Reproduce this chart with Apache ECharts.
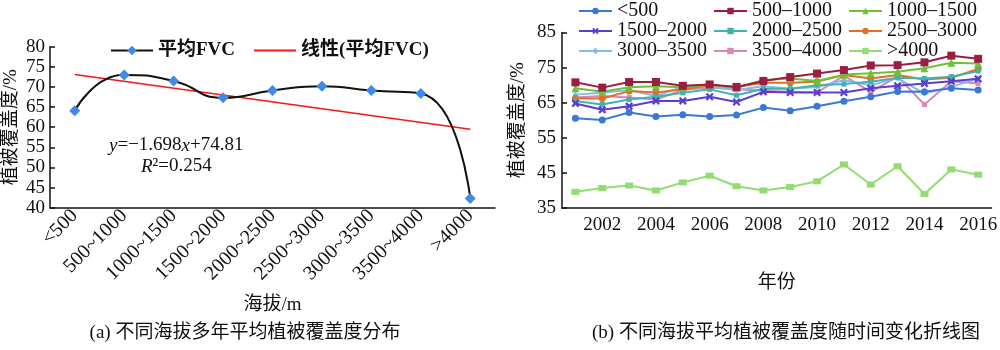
<!DOCTYPE html>
<html>
<head>
<meta charset="utf-8">
<script src="https://cdn.jsdelivr.net/npm/echarts@6/dist/echarts.min.js"></script>
<style>
html,body{margin:0;padding:0;background:#fff;}
#chart{width:1000px;height:350px;}
</style>
</head>
<body>
<div id="chart"></div>
<script>
// ---- Data (left panel) ----
const altCats = ['<500','500~1000','1000~1500','1500~2000','2000~2500','2500~3000','3000~3500','3500~4000','>4000'];
const meanFVC = [64.1, 73.0, 71.5, 67.3, 69.1, 70.2, 69.1, 68.4, 42.3];
const trendFVC = [73.1, null, null, null, null, null, null, null, 59.5];
const leftYTicks = [40, 45, 50, 55, 60, 65, 70, 75, 80];

// ---- Data (right panel) ----
const years = ['2001','2002','2003','2004','2005','2006','2007','2008','2009','2010','2011','2012','2013','2014','2015','2016'];
const s_lt500     = [60.6,60.1,62.2,61.1,61.6,61.1,61.5,63.6,62.7,64.0,65.4,66.7,68.2,68.1,69.1,68.6];
const s_500_1000  = [70.8,69.3,70.9,70.9,69.8,70.2,69.5,71.2,72.3,73.3,74.3,75.6,75.7,76.5,78.4,77.5];
const s_1000_1500 = [69.1,68.1,69.4,69.7,69.4,70.2,69.2,71.5,71.9,71.2,73.0,73.4,73.8,74.8,76.4,76.2];
const s_1500_2000 = [64.8,63.0,64.0,65.5,65.5,66.7,65.2,68.1,67.9,67.9,67.9,69.1,69.8,70.5,71.1,71.8];
const s_2000_2500 = [65.5,64.5,65.9,66.7,67.8,68.8,67.1,69.0,69.0,70.0,70.3,71.0,72.1,71.9,72.4,74.0];
const s_2500_3000 = [66.2,66.2,68.3,67.9,68.8,70.0,69.5,70.7,70.7,71.0,72.9,71.9,72.9,71.6,72.1,74.6];
const s_3000_3500 = [67.3,67.8,68.6,66.9,69.5,69.5,68.6,69.7,69.0,69.5,71.4,70.0,72.0,67.6,69.5,71.9];
const s_3500_4000 = [66.5,66.9,66.5,65.9,68.6,69.3,68.8,68.4,68.1,67.9,72.7,68.1,72.4,64.5,71.1,70.5];
const s_gt4000    = [39.6,40.7,41.4,40.0,42.3,44.2,41.2,40.0,41.0,42.6,47.4,41.7,46.9,39.0,46.0,44.5];
const seriesNames = ['<500','500–1000','1000–1500','1500–2000','2000–2500','2500–3000','3000–3500','3500–4000','>4000'];
const seriesData = [s_lt500,s_500_1000,s_1000_1500,s_1500_2000,s_2000_2500,s_2500_3000,s_3000_3500,s_3500_4000,s_gt4000];

const FONT = "'Liberation Serif','Times New Roman','Noto Sans CJK SC',serif";
const colors = ['#3b78d6','#9c1d40','#6cc236','#5a3ecf','#3db4b0','#e06f28','#86b9ee','#d888b2','#92dc72'];
const xMark = 'path://M2,0L5,3L8,0L10,2L7,5L10,8L8,10L5,7L2,10L0,8L3,5L0,2Z';
const symbols = ['circle','rect','triangle',xMark,'rect','circle','diamond','rect','rect'];
const symSizes = [7,8,8,8,5,7,6,5,[8,6]];

const chart = echarts.init(document.getElementById('chart'), null, {renderer:'canvas'});

const axisLabelStyle = {fontFamily: FONT, fontSize: 19, color: '#111'};
const rightSeries = seriesNames.map((n,i)=>({
  name: n, type: 'line', xAxisIndex: 1, yAxisIndex: 1,
  data: seriesData[i], symbol: symbols[i], symbolSize: symSizes[i],
  lineStyle: {width: 2, color: colors[i]}, itemStyle: {color: colors[i]},
  z: 10 - (i===8?0:i)
}));

function rlegend(left, names){
  return {
    left: left, top: -4, orient: 'vertical', itemGap: 0,
    itemWidth: 33, itemHeight: 8, data: names,
    textStyle: {fontFamily: FONT, fontSize: 20, lineHeight: 18, color: '#111'}
  };
}

chart.setOption({
  animation: false,
  backgroundColor: '#fff',
  legend: [
    {
      left: 105, top: 36, itemGap: 18, itemWidth: 42, itemHeight: 12,
      data: [{name: '平均FVC'}, {name: '线性(平均FVC)', itemStyle: {opacity: 0}}],
      textStyle: {fontFamily: FONT, fontSize: 19, fontWeight: 'bold', color: '#111'}
    },
    rlegend(573, [seriesNames[0],seriesNames[3],seriesNames[6]]),
    rlegend(708, [seriesNames[1],seriesNames[4],seriesNames[7]]),
    rlegend(843, [seriesNames[2],seriesNames[5],seriesNames[8]])
  ],
  grid: [
    {left: 50, right: 505, top: 46.7, bottom: 142.3, containLabel: false},
    {left: 562, right: 4, top: 32.5, bottom: 142, containLabel: false}
  ],
  xAxis: [
    {
      type: 'category', gridIndex: 0, data: altCats, boundaryGap: true,
      axisLine: {lineStyle: {color: '#111', width: 1.5}},
      axisTick: {inside: true, length: 5, interval: 0, lineStyle: {color: '#111', width: 1.5}},
      axisLabel: {rotate: 45, interval: 0, margin: 5, fontFamily: FONT, fontSize: 20, color: '#111'},
      name: '海拔/m', nameLocation: 'middle', nameGap: 88,
      nameTextStyle: {fontFamily: FONT, fontSize: 19, color: '#111'}
    },
    {
      type: 'category', gridIndex: 1, data: years, boundaryGap: true,
      axisLine: {lineStyle: {color: '#111', width: 1.5}},
      axisTick: {inside: true, length: 5, interval: 0, lineStyle: {color: '#111', width: 1.5}},
      axisLabel: {interval: (idx)=> idx % 2 === 1, margin: 8, fontFamily: FONT, fontSize: 19, color: '#111'},
      name: '年份', nameLocation: 'middle', nameGap: 66,
      nameTextStyle: {fontFamily: FONT, fontSize: 19, color: '#111'}
    }
  ],
  yAxis: [
    {
      type: 'value', gridIndex: 0, min: leftYTicks[0], max: leftYTicks[leftYTicks.length-1], interval: 5,
      axisLine: {show: true, lineStyle: {color: '#111', width: 1.5}},
      axisTick: {show: true, inside: true, length: 5, lineStyle: {color: '#111', width: 1.5}},
      splitLine: {show: false},
      axisLabel: Object.assign({margin: 5}, axisLabelStyle),
      name: '植被覆盖度/%', nameLocation: 'middle', nameGap: 29, nameRotate: 90,
      nameTextStyle: {fontFamily: FONT, fontSize: 19, color: '#111'}
    },
    {
      type: 'value', gridIndex: 1, min: 35, max: 85, interval: 10,
      axisLine: {show: true, lineStyle: {color: '#111', width: 1.5}},
      axisTick: {show: true, inside: true, length: 5, lineStyle: {color: '#111', width: 1.5}},
      splitLine: {show: false},
      axisLabel: Object.assign({margin: 6}, axisLabelStyle),
      name: '植被覆盖度/%', nameLocation: 'middle', nameGap: 34, nameRotate: 90,
      nameTextStyle: {fontFamily: FONT, fontSize: 19, color: '#111'}
    }
  ],
  series: [
    {
      name: '平均FVC', type: 'line', xAxisIndex: 0, yAxisIndex: 0,
      data: meanFVC, smooth: 0.55, symbol: 'diamond', symbolSize: 11,
      lineStyle: {color: '#111', width: 2}, itemStyle: {color: '#3f8ae6'}, z: 5
    },
    {
      name: '线性(平均FVC)', type: 'line', xAxisIndex: 0, yAxisIndex: 0,
      data: trendFVC, connectNulls: true, symbol: 'none',
      lineStyle: {color: '#f21818', width: 1.6}, itemStyle: {color: '#f21818'}, z: 4
    }
  ].concat(rightSeries),
  graphic: [
    {
      type: 'text', left: 109, top: 136,
      style: {
        text: '{i|y}{n|=−1.698}{i|x}{n|+74.81}',
        rich: {
          i: {fontFamily: FONT, fontSize: 19, fontStyle: 'italic', fill: '#111'},
          n: {fontFamily: FONT, fontSize: 19, fill: '#111'}
        }
      }
    },
    {
      type: 'text', left: 141, top: 157,
      style: {
        text: '{i|R}{n|²=0.254}',
        rich: {
          i: {fontFamily: FONT, fontSize: 19, fontStyle: 'italic', fill: '#111'},
          n: {fontFamily: FONT, fontSize: 19, fill: '#111'}
        }
      }
    },
    {
      type: 'text', x: 245, y: 333,
      style: {text: '(a) 不同海拔多年平均植被覆盖度分布', fontFamily: FONT, fontSize: 19, fill: '#111', align: 'center', verticalAlign: 'middle'}
    },
    {
      type: 'text', x: 786, y: 333,
      style: {text: '(b) 不同海拔平均植被覆盖度随时间变化折线图', fontFamily: FONT, fontSize: 19, fill: '#111', align: 'center', verticalAlign: 'middle'}
    }
  ]
});
</script>
</body>
</html>
